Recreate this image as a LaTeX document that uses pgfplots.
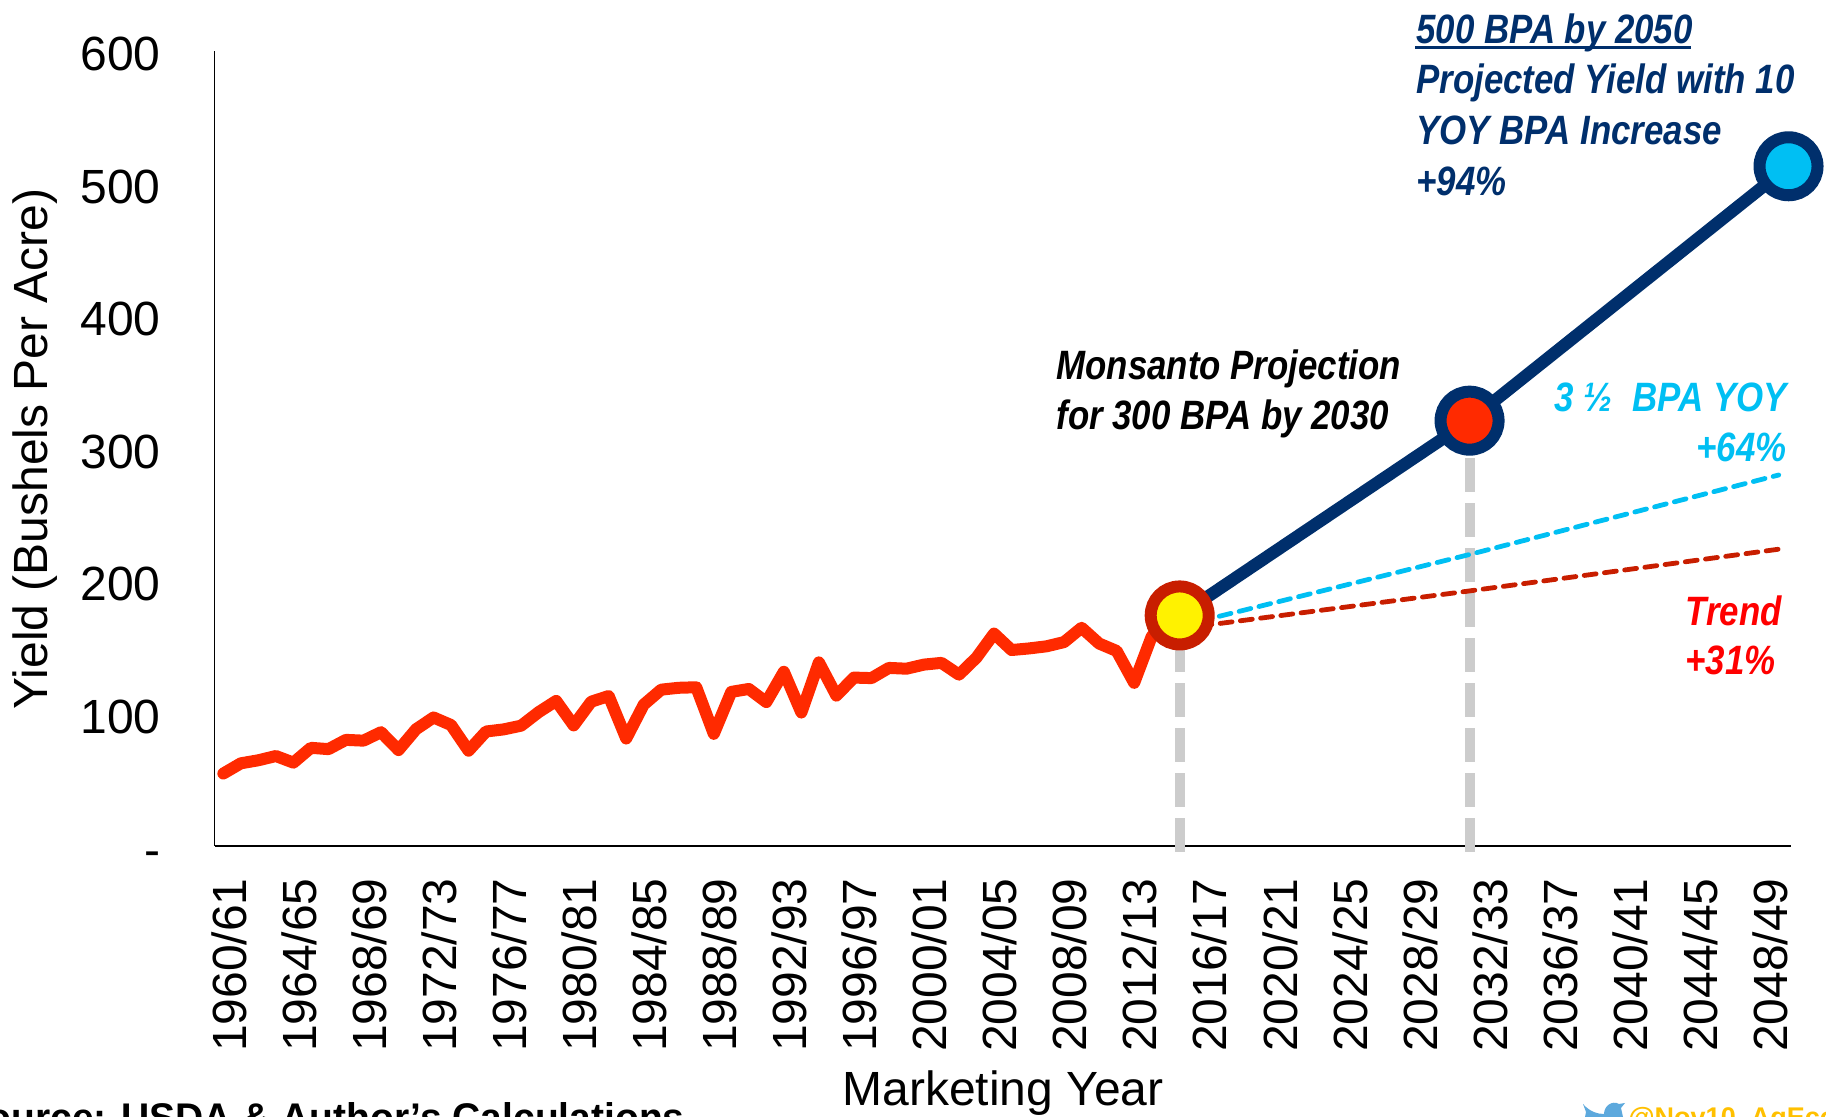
\documentclass[border=0pt]{standalone}
\usepackage{pgfplots}
\pgfplotsset{compat=1.18}
\usepackage{fontspec}
\setmainfont{Liberation Sans}
\newfontfamily\annot[FakeStretch=0.85]{Liberation Sans}
\newfontfamily\srcfont[FakeStretch=0.975]{Liberation Sans}
\definecolor{histred}{HTML}{FF2A00}
\definecolor{navyb}{HTML}{002F6C}
\definecolor{cyanb}{HTML}{00BFF3}
\definecolor{ringred}{HTML}{C81E00}
\definecolor{grayd}{HTML}{CCCCCC}
\definecolor{birdb}{HTML}{5DA9DD}
\definecolor{handle}{HTML}{FFC000}
\newcommand{\px}[2]{({#1*0.5pt},{(1117-#2)*0.5pt})}
\begin{document}
\begin{tikzpicture}
\useasboundingbox (0,0) rectangle (913pt,558.5pt);
\begin{axis}[
  at={(107.3pt,135.5pt)}, anchor=south west,
  width=788.2pt, height=397.5pt, scale only axis,
  xmin=-0.5, xmax=89.5, ymin=0, ymax=600,
  axis lines=left, axis line style={black,line width=0.8pt,-},
  clip=false,
  xtick={0,4,...,88},
  xticklabels={1960/61,1964/65,1968/69,1972/73,1976/77,1980/81,1984/85,1988/89,1992/93,1996/97,2000/01,2004/05,2008/09,2012/13,2016/17,2020/21,2024/25,2028/29,2032/33,2036/37,2040/41,2044/45,2048/49},
  ytick={0,100,...,600},
  yticklabels={\smash{\raisebox{-9pt}{-}},100,200,300,400,500,600},
  major tick length=0pt,
  tick style={draw=none},
  x tick label style={rotate=90,anchor=east,font=\fontsize{24}{24}\selectfont,xshift=-12.7pt,yshift=-2.8pt},
  y tick label style={font=\fontsize{24}{24}\selectfont,yshift=-1.5pt,xshift=-23.5pt},
]
\addplot[grayd,line width=5pt,dash pattern=on 17pt off 5.5pt] coordinates {(54.6,-4.5)(54.6,174)};
\addplot[grayd,line width=5pt,dash pattern=on 17pt off 5.5pt] coordinates {(71.15,-4.5)(71.15,321)};
\addplot[histred,line width=6pt,line join=round,line cap=round] coordinates {
(0,54.7)(1,62.4)(2,64.7)(3,67.9)(4,62.9)(5,74.1)(6,73.1)(7,80.1)(8,79.5)(9,85.9)
(10,72.4)(11,88.1)(12,97.0)(13,91.3)(14,71.9)(15,86.4)(16,88.0)(17,90.8)(18,101.0)(19,109.5)
(20,91.0)(21,108.9)(22,113.2)(23,81.1)(24,106.7)(25,118.0)(26,119.4)(27,119.8)(28,84.6)(29,116.3)
(30,118.5)(31,108.6)(32,131.5)(33,100.7)(34,138.6)(35,113.5)(36,127.1)(37,126.7)(38,134.4)(39,133.8)
(40,136.9)(41,138.2)(42,129.3)(43,142.2)(44,160.3)(45,147.9)(46,149.1)(47,150.7)(48,153.9)(49,164.7)
(50,152.8)(51,147.2)(52,123.1)(53,158.1)(54,171)};
\addplot[cyanb,line width=2.4pt,dash pattern=on 6pt off 4.2pt,line cap=round] coordinates {(54.6,166)(71.15,220)(88.8,280)};
\addplot[ringred,line width=2.4pt,dash pattern=on 6pt off 4.2pt,line cap=round] coordinates {(54.6,164)(71.15,192.5)(88.8,224)};
\addplot[navyb,line width=6.2pt] coordinates {(54.6,174)(71.15,321)(89.36,513)};
\addplot[only marks,mark=*,mark size=14.5pt,mark options={draw=ringred,fill=yellow,line width=6pt}] coordinates {(54.6,174)};
\addplot[only marks,mark=*,mark size=14.5pt,mark options={draw=navyb,fill=histred,line width=6pt}] coordinates {(71.15,321)};
\addplot[only marks,mark=*,mark size=14.5pt,mark options={draw=navyb,fill=cyanb,line width=6pt}] coordinates {(89.36,513)};
\end{axis}
\def\af{\annot\bfseries\itshape\fontsize{20.5}{20.5}\selectfont}
\node[anchor=base west,inner sep=0,text=navyb] at \px{1416}{44} {\af 500 BPA by 2050};
\draw[navyb,line width=1.3pt] \px{1415}{47.5} -- \px{1691}{47.5};
\node[anchor=base west,inner sep=0,text=navyb] at \px{1416}{94} {\af Projected Yield with 10};
\node[anchor=base west,inner sep=0,text=navyb] at \px{1416}{145} {\af YOY BPA Increase};
\node[anchor=base west,inner sep=0,text=navyb] at \px{1416}{196} {\af +94\%};
\node[anchor=base west,inner sep=0] at \px{1056}{380} {\af Monsanto Projection};
\node[anchor=base west,inner sep=0] at \px{1056}{430} {\af for 300 BPA by 2030};
\node[anchor=base east,inner sep=0,text=cyanb] at \px{1787}{412} {\af 3 ½\ \ BPA YOY};
\node[anchor=base east,inner sep=0,text=cyanb] at \px{1787}{462} {\af +64\%};
\node[anchor=base east,inner sep=0,text=red] at \px{1782}{626} {\af Trend};
\node[anchor=base east,inner sep=0,text=red] at \px{1776}{675} {\af +31\%};
\node[rotate=90,inner sep=0,font=\fontsize{24}{24}\selectfont] at \px{35}{449} {Yield (Bushels Per Acre)};
\node[anchor=base,inner sep=0,font=\fontsize{24}{24}\selectfont] at \px{1003}{1106} {Marketing Year};
\node[anchor=base east,inner sep=0,font=\srcfont\bfseries\fontsize{20}{20}\selectfont] at \px{685}{1132} {Source: USDA \& Author’s Calculations};
\fill[birdb] \px{1583}{1104} .. controls \px{1590}{1112} and \px{1598}{1114} .. \px{1604}{1114}
  .. controls \px{1604}{1106} and \px{1612}{1100} .. \px{1619}{1104} -- \px{1625}{1103} -- \px{1621}{1108}
  -- \px{1623}{1117} -- \px{1585}{1117} -- \px{1586}{1112} -- cycle;
\node[anchor=base west,inner sep=0,text=handle,font=\bfseries\fontsize{13.5}{13.5}\selectfont] at \px{1628}{1127} {@Nov10\_AgEcon};
\end{tikzpicture}
\end{document}
